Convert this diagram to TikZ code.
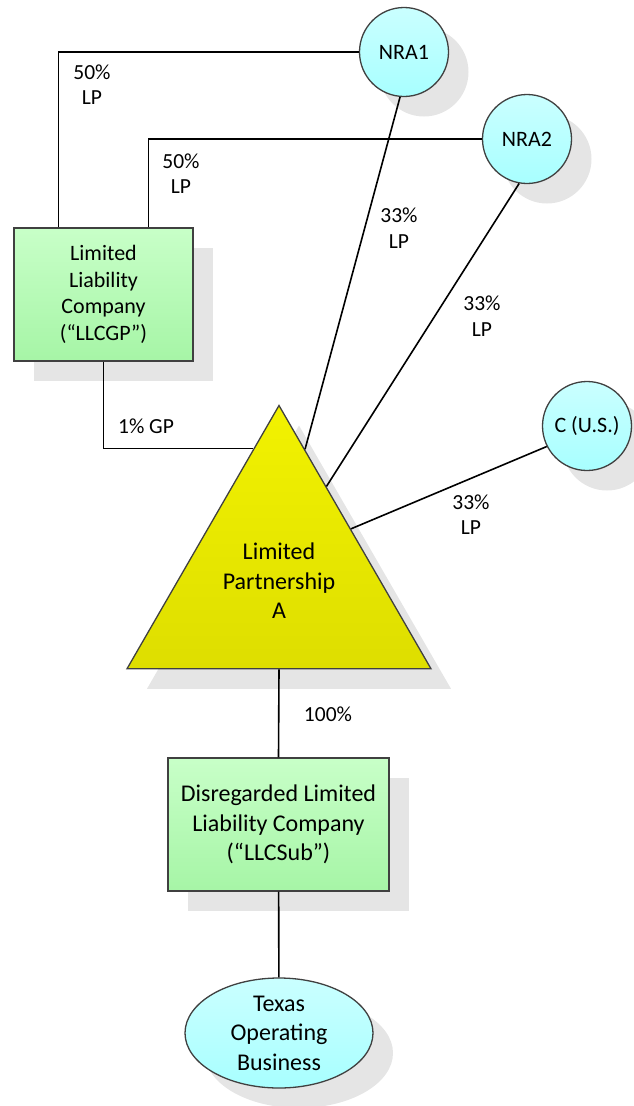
\documentclass[tikz,border=0pt]{standalone}
\usepackage{fontspec}
\setmainfont{Carlito}
\usepackage{xcolor}
\usetikzlibrary{positioning,calc,shapes.geometric,shadows}

\definecolor{llcTop}{RGB}{200,255,200}
\definecolor{llcBottom}{RGB}{166,245,166}
\definecolor{ownerTop}{RGB}{202,255,255}
\definecolor{ownerBottom}{RGB}{168,255,255}
\definecolor{lpTop}{RGB}{242,242,0}
\definecolor{lpBottom}{RGB}{222,222,0}
\definecolor{edgeGray}{RGB}{64,64,64}
\definecolor{shadowGray}{RGB}{229,229,229}

\tikzset{
  every entity/.style={draw=edgeGray, line width=1.3pt, align=center, inner sep=0pt,
    drop shadow={shadow xshift=20pt, shadow yshift=-20pt, fill=shadowGray, opacity=1}},
  entity llc/.style={rectangle, top color=llcTop, bottom color=llcBottom},
  entity owner/.style={circle, minimum size=89pt, top color=ownerTop, bottom color=ownerBottom,
    font=\fontsize{22}{26.5}\selectfont},
  entity lp/.style={regular polygon, regular polygon sides=3, minimum size=351pt,
    top color=lpTop, bottom color=lpBottom, font=\fontsize{24}{29.5}\selectfont},
  entity business/.style={ellipse, minimum width=188pt, minimum height=110pt,
    top color=ownerTop, bottom color=ownerBottom, font=\fontsize{24}{29.5}\selectfont},
  share label/.style={align=center, inner sep=0pt, font=\fontsize{21.5}{25.5}\selectfont},
  link/.style={draw=black, line width=1.6pt}
}

\begin{document}
\begin{tikzpicture}[x=1pt, y=-1pt]
      \useasboundingbox (0,0) rectangle (633,1106);

      \node [every entity, entity llc, minimum width=179pt, minimum height=133pt,
        font=\fontsize{22}{26.5}\selectfont] (llc-gp) at (103.5,294.5)
        {Limited\\Liability\\Company\\(“LLCGP”)};

      \foreach \m/\t/\x/\y in {1/NRA1/404/52, 2/NRA2/527/139, 3/C (U.S.)/587/426}
        \node [every entity, entity owner] (partner-\m) at (\x,\y) {\t};

      \node [every entity, entity lp] (lp-a) at (279,581) {Limited\\Partnership\\A};

      \node [every entity, entity llc, minimum width=221pt, minimum height=133pt,
        font=\fontsize{24}{29.5}\selectfont] (llc-sub) at (278.5,824.5)
        {Disregarded Limited\\Liability Company\\(“LLCSub”)};

      \node [every entity, entity business] (business) at (279,1033)
        {Texas\\Operating\\Business};

      % Add the ownership labels
      \foreach \p/\x/\y [count=\i] in {50/92/84.5, 50/181/173.5, 33/399/228, 33/482/316, 33/471/514.5}
        \node [share label] (share-\i) at (\x,\y) {\p\%\\LP};
      \node [share label] (share-gp) at (146,426) {1\% GP};
      \node [share label] (share-sub) at (328,714) {100\%};

      % Draw the connecting lines
      \draw [link] ($(llc-gp.north west)!0.25!(llc-gp.north east)$) |- (partner-1.west);
      \draw [link] ($(llc-gp.north west)!0.75!(llc-gp.north east)$) |- (partner-2.west);
      \draw [link] (llc-gp.south) |- ($(lp-a.corner 1)!0.167!(lp-a.corner 2)$);

      \foreach \i/\a/\f in {1/-95/0.17, 2/-100/0.31, 3/-153/0.47}
        \draw [link] (partner-\i.\a) -- ($(lp-a.corner 1)!\f!(lp-a.corner 3)$);

      \draw [link] (lp-a.side 2) -- (llc-sub.north);
      \draw [link] (llc-sub) -- (business);
    \end{tikzpicture}
\end{document}
